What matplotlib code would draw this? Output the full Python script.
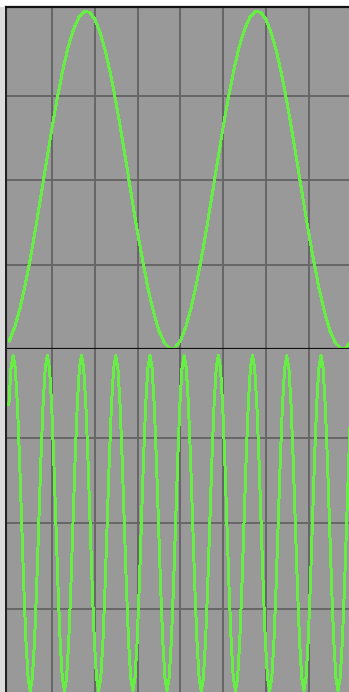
import numpy as np
import matplotlib
matplotlib.use("Agg")
import matplotlib.pyplot as plt
from matplotlib.patches import Rectangle

# top trace: sampled every 1/8 division, 0..8
top_x = np.arange(0, 8.001, 0.125)
top_y = [0.024, 0.064, 0.120, 0.191, 0.273, 0.364, 0.461, 0.559,
         0.655, 0.744, 0.825, 0.893, 0.945, 0.981, 0.998, 0.997,
         0.976, 0.936, 0.880, 0.810, 0.727, 0.635, 0.539, 0.440,
         0.345, 0.258, 0.176, 0.109, 0.054, 0.019, 0.002, 0.003,
         0.024, 0.064, 0.120, 0.191, 0.273, 0.364, 0.461, 0.559,
         0.655, 0.744, 0.825, 0.893, 0.945, 0.981, 0.998, 0.997,
         0.976, 0.936, 0.880, 0.810, 0.727, 0.635, 0.539, 0.440,
         0.345, 0.258, 0.176, 0.109, 0.054, 0.019, 0.002, 0.003,
         0.024]

# bottom trace: sampled every 0.05 division starting at -0.01
bot_x = np.arange(161) * 0.05 - 0.01
bot_y = [0.693, 0.905, 0.98, 0.905, 0.693, 0.375, 0.0, -0.375, -0.693, -0.905, -0.98, -0.905, -0.693, -0.375, 0.0, 0.375,
         0.693, 0.905, 0.98, 0.905, 0.693, 0.375, 0.0, -0.375, -0.693, -0.905, -0.98, -0.905, -0.693, -0.375, 0.0, 0.375,
         0.693, 0.905, 0.98, 0.905, 0.693, 0.375, 0.0, -0.375, -0.693, -0.905, -0.98, -0.905, -0.693, -0.375, 0.0, 0.375,
         0.693, 0.905, 0.98, 0.905, 0.693, 0.375, 0.0, -0.375, -0.693, -0.905, -0.98, -0.905, -0.693, -0.375, 0.0, 0.375,
         0.693, 0.905, 0.98, 0.905, 0.693, 0.375, 0.0, -0.375, -0.693, -0.905, -0.98, -0.905, -0.693, -0.375, 0.0, 0.375,
         0.693, 0.905, 0.98, 0.905, 0.693, 0.375, 0.0, -0.375, -0.693, -0.905, -0.98, -0.905, -0.693, -0.375, 0.0, 0.375,
         0.693, 0.905, 0.98, 0.905, 0.693, 0.375, 0.0, -0.375, -0.693, -0.905, -0.98, -0.905, -0.693, -0.375, 0.0, 0.375,
         0.693, 0.905, 0.98, 0.905, 0.693, 0.375, 0.0, -0.375, -0.693, -0.905, -0.98, -0.905, -0.693, -0.375, 0.0, 0.375,
         0.693, 0.905, 0.98, 0.905, 0.693, 0.375, 0.0, -0.375, -0.693, -0.905, -0.98, -0.905, -0.693, -0.375, 0.0, 0.375,
         0.693, 0.905, 0.98, 0.905, 0.693, 0.375, 0.0, -0.375, -0.693, -0.905, -0.98, -0.905, -0.693, -0.375, 0.0, 0.375,
         0.693]

x_grid = [1, 2, 3, 4, 5, 6, 7]
top_grid = [0.25, 0.5, 0.75]
bot_grid = [-0.5, 0.0, 0.5]

bg = "#999999"
grid_col = "#666666"
trace_col = "#66ee44"

fig = plt.figure(figsize=(3.49, 6.92), dpi=100, facecolor="white")
fig.patches.append(Rectangle((0, 0), 5 / 349, 685 / 692, transform=fig.transFigure,
                             facecolor="#dcdcdc", edgecolor="none", zorder=0))

left = 6 / 349
width = 1 - left
ax1 = fig.add_axes([left, 343 / 692, width, 342 / 692])
ax2 = fig.add_axes([left, 0, width, 343 / 692])


def style(ax, yticks):
    ax.set_facecolor(bg)
    ax.set_xticks(x_grid)
    ax.set_yticks(yticks)
    ax.grid(True, color=grid_col, linewidth=1.4)
    ax.tick_params(length=0, labelbottom=False, labelleft=False)
    for s in ax.spines.values():
        s.set_visible(False)
    ax.spines["left"].set_visible(True)
    ax.spines["left"].set_color("#222222")
    ax.spines["left"].set_linewidth(1.5)


style(ax1, top_grid)
style(ax2, bot_grid)
ax1.spines["top"].set_visible(True)
ax1.spines["top"].set_color("#111111")
ax1.spines["top"].set_linewidth(1.6)
ax1.spines["bottom"].set_visible(True)
ax1.spines["bottom"].set_color("#111111")
ax1.spines["bottom"].set_linewidth(1.6)

ax1.plot(top_x, top_y, color=trace_col, linewidth=1.4, antialiased=False)
ax2.plot(bot_x, bot_y, color=trace_col, linewidth=1.4, antialiased=False)

ax1.set_xlim(-0.077, 7.946)
ax2.set_xlim(-0.077, 7.946)
ax1.set_ylim(0, 1.012)
ax2.set_ylim(-0.988, 1.018)

fig.savefig("out.png", dpi=100, facecolor=fig.get_facecolor())
